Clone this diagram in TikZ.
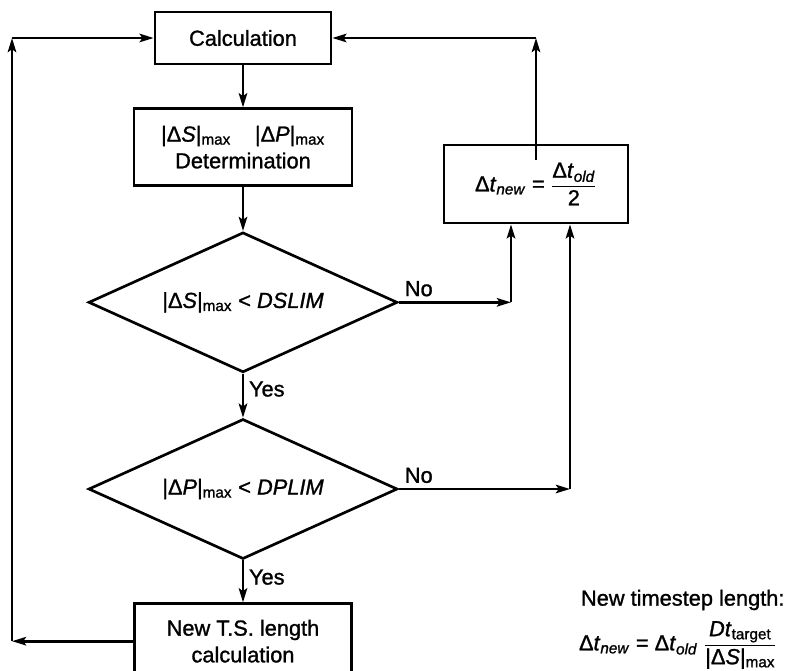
\documentclass[tikz,border=0pt]{standalone}
\usepackage{fontspec}
\usepackage{amsmath}
\setmainfont{Liberation Sans}[FakeBold=1.2]
\usetikzlibrary{positioning,shapes.geometric,arrows.meta}

\newcommand{\absmax}[1]{|Δ\textit{#1}|\textsubscript{max}}
\newcommand{\tnew}{Δ\textit{t}\textsubscript{\textit{new}}}
\newcommand{\told}{Δ\textit{t}\textsubscript{\textit{old}}}

\begin{document}
\begin{tikzpicture}[->,>={Stealth[length=10pt,width=6pt,inset=2pt]},line width=1.9pt,node distance=1.1cm,
    every node/.style={font=\fontsize{15.5}{19}\selectfont},
    block node/.style={rectangle,draw,align=center,inner sep=2pt},
    decision node/.style={diamond,draw,aspect=2.2,inner sep=0pt,minimum width=7.725cm,minimum height=3.5cm}]
            \useasboundingbox (-6.075,0.95) rectangle (13.75,-15.825);

            \node[block node,minimum width=4.4cm,minimum height=1.3cm] (calc) {Calculation};
            \node[block node,minimum width=5.45cm,minimum height=1.925cm] (det) [below=1.05cm of calc] {\absmax{S}\hspace{0.6cm}\absmax{P}\\Determination};
            \node[decision node] (dslim) [below=of det] {\absmax{S} < \textit{DSLIM}};
            \node[decision node] (dplim) [below=of dslim] {\absmax{P} < \textit{DPLIM}};
            \node[block node,minimum width=5.425cm,minimum height=1.875cm] (newts) [below=1.05cm of dplim] {New T.S. length\\calculation};
            \node[block node,minimum width=4.6cm,minimum height=1.95cm] (half) at (7.325,-3.65) {\tnew{} = $\dfrac{\text{\told}}{\text{2}}$};

            \node[anchor=west] (tslabel) at (8.3,-14.05) {New timestep length:};
            \node[anchor=west] (tsrule) at (8.25,-15.175) {\tnew{} = \told{} $\dfrac{\text{\textit{Dt}\textsubscript{target}}}{\text{\absmax{S}}}$};

            \coordinate (back) at (-5.775,0);
            \coordinate (noS) at ([xshift=-0.625cm]half.south);
            \coordinate (noP) at ([xshift=0.85cm]half.south);

            \path
                (calc) edge (det)
                (det) edge (dslim)
                (dslim) edge node[right,pos=0.35] (yes1) {Yes} (dplim)
                (dplim) edge node[right,pos=0.4] (yes2) {Yes} (newts)
                ;

            \draw (newts.west) -- (newts.west -| back);
            \draw (newts.west -| back) -- (back);
            \draw (back) -- (calc.west);

            \draw ([yshift=-0.4cm]half.north) -- (half.north |- calc.east);
            \draw (half.north |- calc.east) -- (calc.east);

            \draw (dslim.east) -- node[above right,pos=0] (no1) {No} (dslim.east -| noS);
            \draw (dslim.east -| noS) -- (noS);
            \draw (dplim.east) -- node[above right,pos=0] (no2) {No} (dplim.east -| noP);
            \draw (dplim.east -| noP) -- (noP);
        \end{tikzpicture}
\end{document}
